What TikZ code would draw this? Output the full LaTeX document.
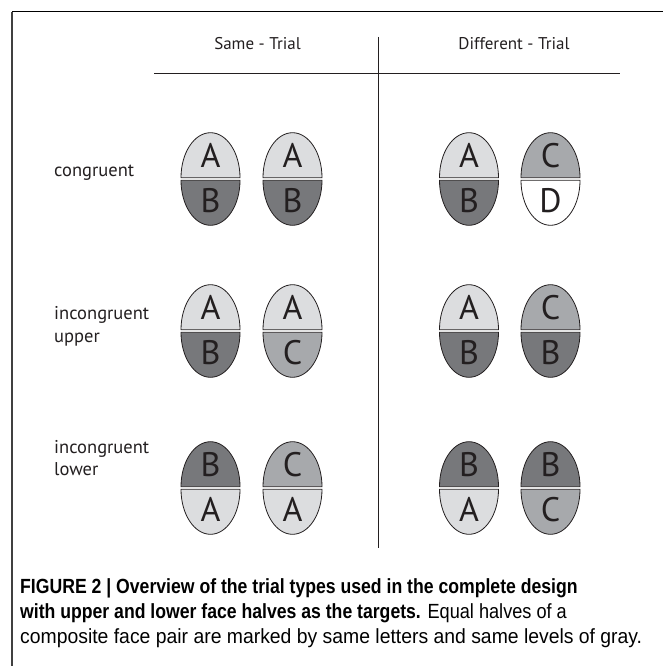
\documentclass[tikz,border=0pt]{standalone}
\usepackage{fontspec}
\setmainfont{PT Sans}
\newfontfamily\capbold[FakeStretch=0.86]{Liberation Sans Bold}
\newfontfamily\capreg[FakeStretch=0.885]{Liberation Sans}
\newfontfamily\capwide[FakeStretch=0.945]{Liberation Sans}
\definecolor{ink}{HTML}{231F20}
\definecolor{lightA}{HTML}{DCDDDF}
\definecolor{darkB}{HTML}{77787B}
\definecolor{midC}{HTML}{A7A9AC}
\newcommand\drawface[7]{%
  \filldraw[half, fill=#3] (#1+29.5,#2-1.3) arc[start angle=0,end angle=180,x radius=29.5pt,y radius=45pt] -- cycle;
  \filldraw[half, fill=#5] (#1-29.5,#2+1.3) arc[start angle=180,end angle=360,x radius=29.5pt,y radius=45pt] -- cycle;
  \node[letter] (#7u) at (#1,#2-12) {#4};
  \node[letter] (#7l) at (#1,#2+33) {#6};
}
\begin{document}
\begin{tikzpicture}[x=1pt,y=-1pt,
  header/.style={font=\fontsize{17}{20}\selectfont, text=ink, anchor=base, inner sep=0pt},
  rowlabel/.style={font=\fontsize{18.5}{22}\selectfont, text=ink, anchor=base west, inner sep=0pt},
  letter/.style={font=\fontsize{34}{36}\selectfont, text=ink, anchor=base, inner sep=0pt},
  half/.style={draw=ink, line width=0.8pt},
  rule/.style={draw=ink, line width=0.9pt},
  capline/.style={font=\fontsize{20.5}{24}\selectfont, text=black, anchor=base west, inner sep=0pt}]
\useasboundingbox (0,0) rectangle (663,666);
% frame
\coordinate (fbl) at (12,666);
\coordinate (ftl) at (12,12);
\coordinate (ftr) at (663,12);
\draw[black!75, line width=1.4pt] (fbl) -- (ftl);
\draw[black, line width=1pt] (ftl) -- (ftr);
% grid rules
\coordinate (hl) at (154,73.5);
\coordinate (hr) at (620,73.5);
\coordinate (vt) at (378,37);
\coordinate (vb) at (378,548);
\draw[rule] (hl) -- (hr);
\draw[rule] (vt) -- (vb);
% headers
\node[header] (same) at (257.5,50) {Same - Trial};
\node[header] (diff) at (514,50) {Different - Trial};
% row labels
\node[rowlabel] (r1) at (54,176) {congruent};
\node[rowlabel] (r2a) at (54,319) {incongruent};
\node[rowlabel] (r2b) at (54,342) {upper};
\node[rowlabel] (r3a) at (54,453) {incongruent};
\node[rowlabel] (r3b) at (54,475) {lower};
% row 1
\drawface{210.5}{179}{lightA}{A}{darkB}{B}{f11}
\drawface{292.5}{179}{lightA}{A}{darkB}{B}{f12}
\drawface{469}{179}{lightA}{A}{darkB}{B}{f13}
\drawface{550.5}{179}{midC}{C}{white}{D}{f14}
% row 2
\drawface{210.5}{331}{lightA}{A}{darkB}{B}{f21}
\drawface{292.5}{331}{lightA}{A}{midC}{C}{f22}
\drawface{469}{331}{lightA}{A}{darkB}{B}{f23}
\drawface{550.5}{331}{midC}{C}{darkB}{B}{f24}
% row 3
\drawface{210.5}{488}{darkB}{B}{lightA}{A}{f31}
\drawface{292.5}{488}{midC}{C}{lightA}{A}{f32}
\drawface{469}{488}{darkB}{B}{lightA}{A}{f33}
\drawface{550.5}{488}{darkB}{B}{midC}{C}{f34}
% caption
\node[capline] (c1) at (20,593) {\capbold FIGURE 2 | Overview of the trial types used in the complete design};
\node[capline] (c2) at (20,618) {\capbold with upper and lower face halves as the targets.\capreg{} Equal halves of a};
\node[capline] (c3) at (20,643) {\capwide composite face pair are marked by same letters and same levels of gray.};
\end{tikzpicture}
\end{document}
